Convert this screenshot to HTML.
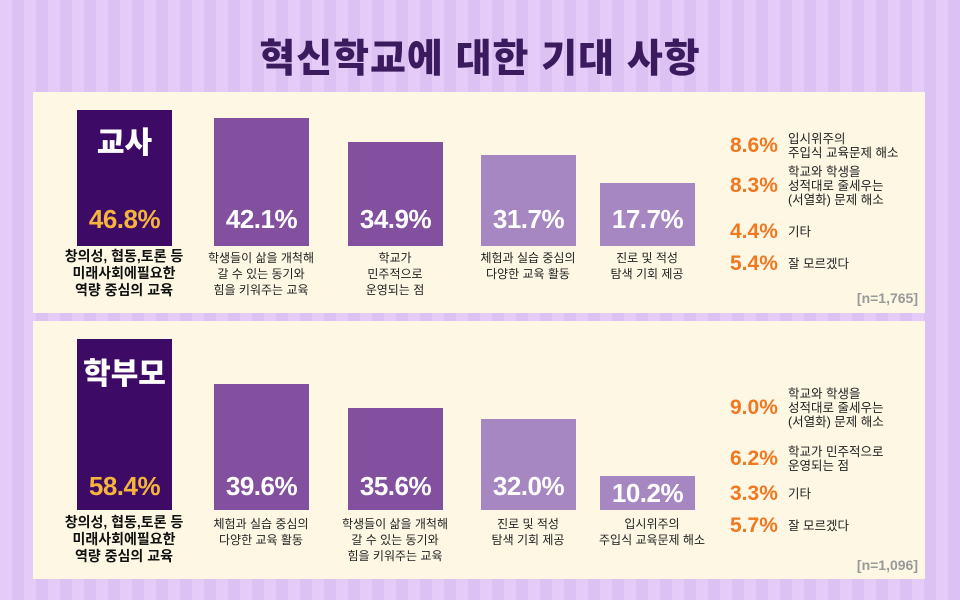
<!DOCTYPE html>
<html><head><meta charset="utf-8"><style>
*{margin:0;padding:0;box-sizing:border-box}
body{width:960px;height:600px;overflow:hidden;position:relative;font-family:"Liberation Sans","Noto Sans CJK KR",sans-serif;
background:repeating-linear-gradient(90deg,#e4cbf8 0 12px,#dcc2f2 12px 24px);}
.t{position:absolute;left:0;width:960px;top:28px;text-align:center;font-size:39px;font-weight:900;color:#3b1a5e;letter-spacing:1px}
.p{position:absolute;left:33px;width:892px;background:#fdf7e4}
.b{position:absolute;width:95px}
.v{position:absolute;left:0;width:100%;text-align:center;font-weight:bold;font-size:26px;color:#fff;letter-spacing:-0.5px}
.l{position:absolute;width:140px;text-align:center;font-size:12px;line-height:16px;color:#222}
.lb{font-size:14px;font-weight:bold;line-height:17px;color:#111}
.r{position:absolute;left:730px;display:flex;align-items:center}
.r b{color:#f07820;font-size:21px;width:58px;flex:none}
.r span{font-size:12.5px;line-height:14px;color:#222}
.n{position:absolute;left:840px;width:78px;text-align:right;font-size:14px;font-weight:bold;color:#999}
.h{position:absolute;left:0;width:100%;text-align:center;color:#fff;font-weight:900;font-size:30px}
</style></head><body>
<div class="t">혁신학교에 대한 기대 사항</div>
<div class="p" style="top:92px;height:221px"></div>
<div class="p" style="top:321px;height:258px"></div>

<div class="b" style="left:77px;top:110px;height:136px;background:#3d0a66"><div class="h" style="top:8px">교사</div><div class="v" style="top:94px;color:#f5b43c">46.8%</div></div>
<div class="b" style="left:214px;top:118px;height:128px;background:#8350a0"><div class="v" style="top:86px">42.1%</div></div>
<div class="b" style="left:348px;top:142px;height:104px;background:#8350a0"><div class="v" style="top:62px">34.9%</div></div>
<div class="b" style="left:481px;top:155px;height:91px;background:#a787c2"><div class="v" style="top:49px">31.7%</div></div>
<div class="b" style="left:600px;top:183px;height:63px;background:#a787c2"><div class="v" style="top:21px">17.7%</div></div>
<div class="l lb" style="left:54px;top:248px">창의성, 협동,토론 등<br>미래사회에필요한<br>역량 중심의 교육</div>
<div class="l" style="left:191px;top:250px">학생들이 삶을 개척해<br>갈 수 있는 동기와<br>힘을 키워주는 교육</div>
<div class="l" style="left:325px;top:250px">학교가<br>민주적으로<br>운영되는 점</div>
<div class="l" style="left:458px;top:250px">체험과 실습 중심의<br>다양한 교육 활동</div>
<div class="l" style="left:577px;top:250px">진로 및 적성<br>탐색 기회 제공</div>
<div class="r" style="top:132px"><b>8.6%</b><span>입시위주의<br>주입식 교육문제 해소</span></div>
<div class="r" style="top:165px"><b>8.3%</b><span>학교와 학생을<br>성적대로 줄세우는<br>(서열화) 문제 해소</span></div>
<div class="r" style="top:220px"><b>4.4%</b><span>기타</span></div>
<div class="r" style="top:252px"><b>5.4%</b><span>잘 모르겠다</span></div>
<div class="n" style="top:290px">[n=1,765]</div>

<div class="b" style="left:77px;top:339px;height:171px;background:#3d0a66"><div class="h" style="top:10px">학부모</div><div class="v" style="top:132px;color:#f5b43c">58.4%</div></div>
<div class="b" style="left:214px;top:384px;height:126px;background:#8350a0"><div class="v" style="top:87px">39.6%</div></div>
<div class="b" style="left:348px;top:408px;height:102px;background:#8350a0"><div class="v" style="top:63px">35.6%</div></div>
<div class="b" style="left:481px;top:419px;height:91px;background:#a787c2"><div class="v" style="top:52px">32.0%</div></div>
<div class="b" style="left:600px;top:476px;height:34px;background:#a787c2"><div class="v" style="top:2px">10.2%</div></div>
<div class="l lb" style="left:54px;top:514px">창의성, 협동,토론 등<br>미래사회에필요한<br>역량 중심의 교육</div>
<div class="l" style="left:191px;top:516px">체험과 실습 중심의<br>다양한 교육 활동</div>
<div class="l" style="left:325px;top:516px">학생들이 삶을 개척해<br>갈 수 있는 동기와<br>힘을 키워주는 교육</div>
<div class="l" style="left:458px;top:516px">진로 및 적성<br>탐색 기회 제공</div>
<div class="l" style="left:577px;top:516px;width:150px">입시위주의<br>주입식 교육문제 해소</div>
<div class="r" style="top:387px"><b>9.0%</b><span>학교와 학생을<br>성적대로 줄세우는<br>(서열화) 문제 해소</span></div>
<div class="r" style="top:445px"><b>6.2%</b><span>학교가 민주적으로<br>운영되는 점</span></div>
<div class="r" style="top:482px"><b>3.3%</b><span>기타</span></div>
<div class="r" style="top:514px"><b>5.7%</b><span>잘 모르겠다</span></div>
<div class="n" style="top:557px">[n=1,096]</div>
</body></html>
